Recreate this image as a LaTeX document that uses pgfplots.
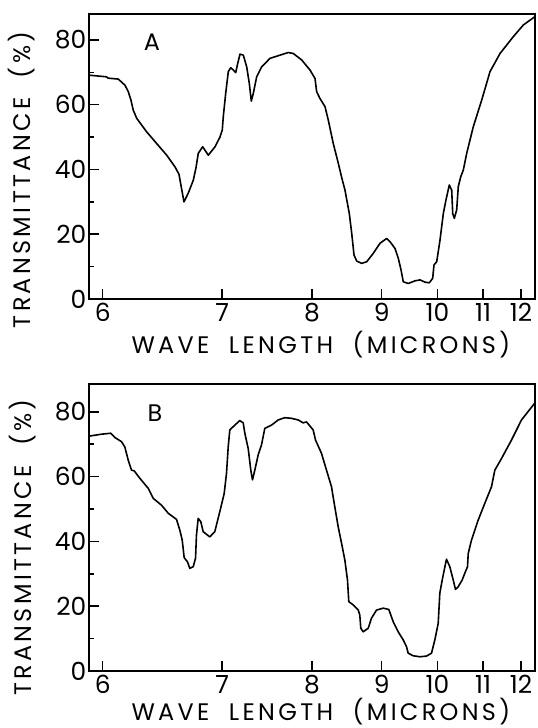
\documentclass[border=0pt]{standalone}
\usepackage{pgfplots}
\pgfplotsset{compat=1.18}
\usepackage{pgfplotstable}
\usepackage{fontspec}
\setmainfont{Poppins}
\newfontfamily\lab{Poppins}[LetterSpace=14.0]

% wavenumber (cm^-1) vs transmittance (%)
\pgfplotstableread{
nu T
1693.4 69.1
1658.8 68.6
1656.2 68.2
1635.6 67.9
1622.3 66.0
1615.7 64.0
1610.4 61.4
1605.8 58.3
1599.0 55.8
1579.1 51.6
1559.2 48.0
1539.2 44.4
1522.7 40.8
1514.7 38.5
1510.7 35.0
1504.8 30.0
1496.2 32.7
1486.2 36.7
1480.9 40.5
1476.3 45.0
1467.5 47.0
1456.4 44.4
1443.0 47.0
1433.1 50.0
1428.5 52.2
1426.5 56.3
1421.7 63.5
1416.5 70.2
1411.7 71.4
1406.5 70.7
1401.8 69.9
1397.8 72.7
1393.2 75.6
1386.6 75.3
1379.9 71.7
1374.7 66.6
1370.7 61.1
1366.7 63.5
1360.0 68.6
1350.0 71.7
1333.5 74.3
1313.5 75.3
1297.0 76.1
1287.0 75.8
1270.3 73.8
1253.8 70.7
1243.8 68.1
1240.5 64.0
1233.9 61.9
1223.9 59.4
1217.3 55.2
1207.4 48.0
1197.4 41.9
1190.6 37.5
1184.1 33.6
1175.5 26.4
1170.7 20.3
1166.1 13.6
1160.7 11.7
1150.8 11.0
1140.8 11.5
1127.7 14.1
1114.3 17.2
1101.0 18.7
1094.4 17.7
1084.5 15.6
1077.9 12.6
1072.5 9.0
1067.9 5.3
1058.0 4.8
1044.6 5.6
1034.7 5.9
1024.7 5.2
1016.1 5.0
1009.4 6.4
1006.8 10.5
1001.4 11.5
994.8 18.2
988.2 26.4
982.9 30.6
976.3 35.2
971.5 33.6
969.5 26.4
966.3 24.9
961.6 27.5
958.4 34.7
953.6 37.7
948.4 39.8
941.6 45.0
928.5 53.2
911.8 61.4
895.2 70.2
875.3 75.8
848.8 81.0
828.9 84.6
805.6 87.2
}\dataA

\pgfplotstableread{
nu T
1694.0 72.5
1669.1 73.1
1650.6 73.4
1642.6 72.1
1629.3 70.8
1622.7 69.2
1615.9 65.1
1609.3 62.0
1604.0 61.8
1592.8 59.5
1576.1 56.4
1566.1 53.3
1549.6 51.2
1536.2 48.7
1519.7 46.8
1513.1 43.5
1508.3 40.4
1504.4 35.0
1497.8 33.7
1493.2 31.7
1486.4 32.2
1481.8 34.8
1479.9 42.0
1476.5 47.1
1471.3 46.1
1466.5 43.0
1453.4 41.4
1443.4 43.0
1433.4 49.2
1424.7 54.8
1420.1 61.0
1416.7 69.2
1413.5 74.4
1403.6 75.9
1393.6 77.3
1386.8 76.6
1383.6 73.4
1376.9 68.7
1371.7 62.0
1368.3 59.0
1363.7 62.0
1357.0 66.7
1350.4 69.8
1343.8 74.9
1330.5 75.9
1317.1 77.5
1304.0 78.2
1290.6 78.0
1277.3 77.5
1267.3 76.6
1260.7 76.9
1247.4 74.4
1242.8 71.3
1230.9 67.2
1220.9 62.0
1211.0 56.9
1204.4 50.7
1197.6 44.5
1191.0 39.5
1184.4 34.3
1179.1 28.1
1176.5 21.4
1167.7 20.4
1157.7 18.8
1154.6 17.3
1152.6 13.2
1147.8 12.1
1137.8 13.2
1131.3 16.3
1121.3 18.8
1108.0 19.4
1096.8 19.0
1088.0 15.2
1078.1 12.1
1068.1 9.6
1061.5 7.5
1058.2 5.5
1048.2 4.7
1035.0 4.4
1021.7 4.6
1011.7 5.5
1005.1 9.6
998.4 14.7
995.2 24.0
990.4 28.1
986.4 31.2
981.9 34.5
975.3 32.2
968.5 28.1
964.0 25.2
958.6 26.0
950.6 28.1
945.4 30.2
940.0 32.2
938.6 36.3
932.1 40.4
918.7 46.6
905.5 51.8
892.2 56.9
885.6 62.0
872.3 65.6
852.4 71.3
832.5 77.5
809.1 82.1
805.6 82.8
}\dataB

\pgfplotsset{myax/.style={
  scale only axis, width=446bp,
  x dir=reverse, xmin=805.6, xmax=1694,
  ymin=0,
  xtick={1666.67,1428.57,1250,1111.11,1000,909.09,833.33},
  xticklabels={6,7,8,9,10,11,12},
  ytick={0,20,40,60,80}, minor ytick={10,30,50,70},
  tick align=inside, xtick pos=bottom, ytick pos=left,
  major tick length=10bp, minor tick length=5bp,
  every tick/.style={black, line width=1.5bp},
  axis line style={line width=2.4bp},
  /pgf/number format/assume math mode=true,
  tick label style={font=\fontsize{25}{27}\selectfont},
  yticklabel style={inner sep=2.5bp},
  xticklabel style={inner sep=4bp},
  xlabel={WAVE\ \ LENGTH\ \ (MICRONS)},
  ylabel={TRANSMITTANCE\ \ (\%)},
  label style={font=\lab\fontsize{24}{26}\selectfont},
  xlabel style={inner sep=0pt},
  ylabel style={anchor=center},
}}

\begin{document}
\begin{tikzpicture}
\useasboundingbox (0,0) rectangle (538bp,728bp);
\begin{axis}[myax, at={(89bp,429bp)}, anchor=south west, height=285bp, ymax=88,
  xlabel style={at={(axis description cs:0.52,-0.193)}, anchor=base},
  ylabel style={at={(axis description cs:-0.152,0.418)}}]
\addplot[black, line width=1.6bp, line join=round] table[x=nu, y=T] {\dataA};
\node[font=\fontsize{24}{26}\selectfont] at (axis description cs:0.141,0.90) {A};
\end{axis}
\begin{axis}[myax, at={(89bp,57bp)}, anchor=south west, height=287bp, ymax=88.6,
  xlabel style={at={(axis description cs:0.52,-0.174)}, anchor=base},
  ylabel style={at={(axis description cs:-0.148,0.43)}}]
\addplot[black, line width=1.6bp, line join=round] table[x=nu, y=T] {\dataB};
\node[font=\fontsize{24}{26}\selectfont] at (axis description cs:0.148,0.90) {B};
\end{axis}
\end{tikzpicture}
\end{document}
